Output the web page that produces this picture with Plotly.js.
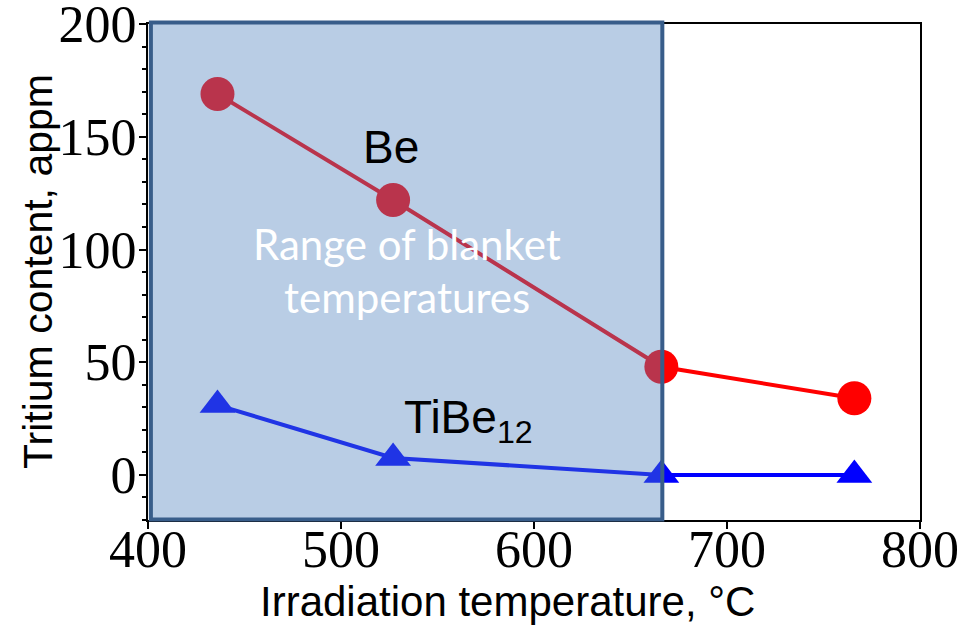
<!DOCTYPE html>
<html>
<head>
<meta charset="utf-8">
<script src="https://cdn.plot.ly/plotly-3.0.1.min.js"></script>
<style>
  html, body { margin: 0; padding: 0; background: #ffffff; }
  #chart { width: 967px; height: 627px; }
</style>
</head>
<body>
<div id="chart"></div>
<script>
// Irradiation temperatures (°C)
const temps = [436, 527, 666, 766];
// Tritium content (appm)
const beContent = [169, 122, 48, 34];
const tibeContent = [31, 7.5, 0, 0];
// Range of blanket temperatures (°C)
const blanketRange = [401.5, 666.5];
// Axis ticks
const xTicks = [400, 500, 600, 700, 800];
const yTicks = [0, 50, 100, 150, 200];
// Texts
const xTitle = 'Irradiation temperature, °C';
const yTitle = 'Tritium content, appm';

const traces = [
  {
    x: temps, y: beContent, name: 'Be', type: 'scatter', mode: 'lines+markers',
    line: { color: '#ff0000', width: 4 },
    marker: { symbol: 'circle', size: 34, color: '#ff0000' },
    showlegend: false, hoverinfo: 'skip'
  },
  {
    x: temps, y: tibeContent, name: 'TiBe12', type: 'scatter', mode: 'lines+markers',
    line: { color: '#0000ff', width: 4 },
    marker: { symbol: 'triangle-up', size: 31, color: '#0000ff' },
    showlegend: false, hoverinfo: 'skip'
  }
];

const layout = {
  width: 967, height: 627,
  paper_bgcolor: '#ffffff', plot_bgcolor: '#ffffff',
  margin: { l: 148, r: 47, t: 24, b: 107 },
  showlegend: false,
  xaxis: {
    range: [400, 800.01], tickvals: xTicks, ticktext: xTicks.map(String),
    showgrid: false, zeroline: false,
    showline: true, linecolor: '#000000', linewidth: 2, mirror: true,
    ticks: 'outside', ticklen: 7, tickwidth: 2, tickcolor: '#000000',
    ticklabelstandoff: -24, ticklabeloverflow: 'allow',
    tickfont: { family: 'Liberation Serif, Times New Roman, serif', size: 52, color: '#000000' },
    automargin: false
  },
  yaxis: {
    range: [-20, 200.05], tickvals: yTicks, ticktext: yTicks.map(String),
    showgrid: false, zeroline: false,
    showline: true, linecolor: '#000000', linewidth: 2, mirror: true,
    ticks: 'outside', ticklen: 7, tickwidth: 2, tickcolor: '#000000',
    ticklabelstandoff: -8, ticklabeloverflow: 'allow',
    minor: { dtick: 10, ticks: 'outside', ticklen: 4, tickwidth: 2, tickcolor: '#000000', showgrid: false },
    tickfont: { family: 'Liberation Serif, Times New Roman, serif', size: 52, color: '#000000' },
    automargin: false
  },
  shapes: [
    {
      type: 'rect', layer: 'above', xref: 'x', yref: 'paper',
      x0: blanketRange[0], x1: blanketRange[1], y0: 0.001, y1: 1.003,
      fillcolor: 'rgba(79,129,189,0.4)',
      line: { color: '#385d8a', width: 4 }
    }
  ],
  annotations: [
    { x: 0.5, y: 0, xref: 'paper', yref: 'paper', text: xTitle, showarrow: false,
      xanchor: 'center', yanchor: 'middle', xshift: -27, yshift: -81,
      font: { family: 'Liberation Sans, Arial, sans-serif', size: 42, color: '#000000' } },
    { x: 0, y: 0.5, xref: 'paper', yref: 'paper', text: yTitle, showarrow: false,
      textangle: -90, xanchor: 'center', yanchor: 'middle', xshift: -110,
      font: { family: 'Liberation Sans, Arial, sans-serif', size: 41, color: '#000000' } },
    { x: 526, y: 145.5, xref: 'x', yref: 'y', text: 'Be', showarrow: false,
      xanchor: 'center', yanchor: 'middle',
      font: { family: 'Liberation Sans, Arial, sans-serif', size: 46, color: '#000000' } },
    { x: 531.5, y: 24, xref: 'x', yref: 'y', text: 'TiBe<sub>12</sub>', showarrow: false,
      xanchor: 'left', yanchor: 'middle',
      font: { family: 'Liberation Sans, Arial, sans-serif', size: 46, color: '#000000' } },
    { x: 534, y: 102.5, xref: 'x', yref: 'y', text: 'Range of blanket', showarrow: false,
      xanchor: 'center', yanchor: 'middle',
      font: { family: 'Lato, Open Sans, sans-serif', size: 42, color: '#ffffff' } },
    { x: 534, y: 79, xref: 'x', yref: 'y', text: 'temperatures', showarrow: false,
      xanchor: 'center', yanchor: 'middle',
      font: { family: 'Lato, Open Sans, sans-serif', size: 42, color: '#ffffff' } }
  ]
};

Plotly.newPlot('chart', traces, layout, { staticPlot: true, displayModeBar: false });
</script>
</body>
</html>
